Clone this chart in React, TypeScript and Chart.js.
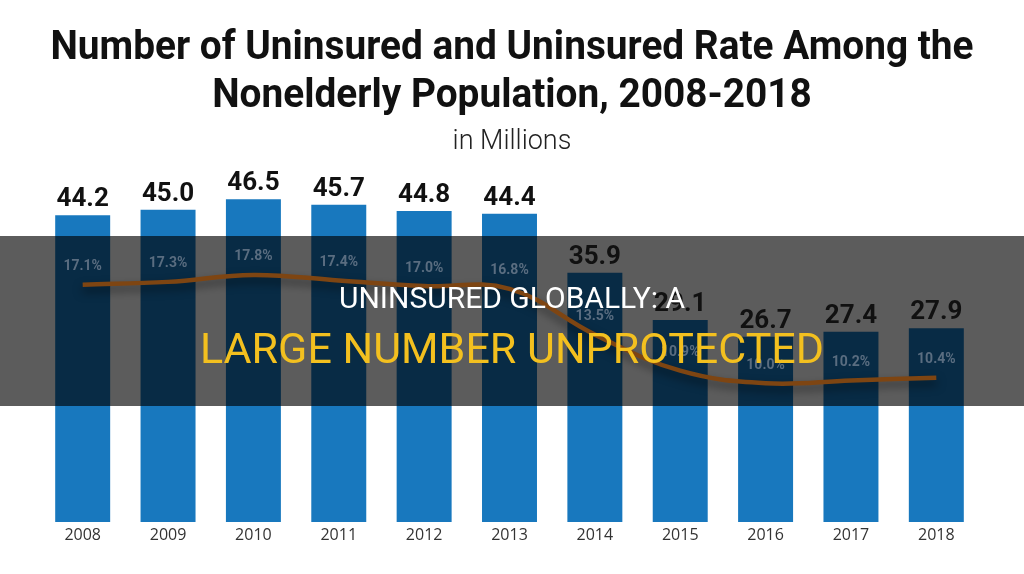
import React, { useEffect, useRef } from "react";
import { Chart, registerables } from "chart.js";

Chart.register(...registerables);

const years = ["2008", "2009", "2010", "2011", "2012", "2013", "2014", "2015", "2016", "2017", "2018"];
const uninsuredMillions = [44.2, 45.0, 46.5, 45.7, 44.8, 44.4, 35.9, 29.1, 26.7, 27.4, 27.9];
const uninsuredRate = [17.1, 17.3, 17.8, 17.4, 17.0, 16.8, 13.5, 10.9, 10.0, 10.2, 10.4];

const titleLines = ["Number of Uninsured and Uninsured Rate Among the", "Nonelderly Population, 2008-2018"];
const subtitleText = "in Millions";
const bannerTop = "UNINSURED GLOBALLY: A";
const bannerBottom = "LARGE NUMBER UNPROTECTED";

const BAR_COLOR = "#1878be";
const LINE_COLOR = "#7e4512";
const RATE_LABEL_COLOR = "#5a6d80";
const BAND_TOP = 236;
const BAND_HEIGHT = 170;
const BAND_COLOR = "rgba(0,0,0,0.64)";

const labelPlugin = {
  id: "valueLabels",
  beforeDatasetDraw(chart: any, args: any) {
    if (args.index === 1) {
      const ctx = chart.ctx;
      ctx.save();
      ctx.shadowColor = "rgba(0,0,0,0.5)";
      ctx.shadowBlur = 10;
      ctx.shadowOffsetY = 5;
    }
  },
  afterDatasetDraw(chart: any, args: any) {
    const ctx = chart.ctx;
    if (args.index === 0) {
      ctx.save();
      ctx.fillStyle = BAND_COLOR;
      ctx.fillRect(0, BAND_TOP, chart.width, BAND_HEIGHT);
      ctx.restore();
    }
    if (args.index === 1) {
      ctx.restore();
    }
  },
  afterDatasetsDraw(chart: any) {
    const ctx = chart.ctx;
    const barMeta = chart.getDatasetMeta(0);
    const lineMeta = chart.getDatasetMeta(1);
    ctx.save();
    ctx.textAlign = "center";
    ctx.textBaseline = "alphabetic";
    ctx.fillStyle = "#111111";
    ctx.font = "bold 26px Roboto";
    barMeta.data.forEach((bar: any, i: number) => {
      ctx.fillText(uninsuredMillions[i].toFixed(1), bar.x, bar.y - 9);
    });
    ctx.textBaseline = "middle";
    ctx.fillStyle = RATE_LABEL_COLOR;
    ctx.font = "bold 14px Roboto";
    lineMeta.data.forEach((pt: any, i: number) => {
      ctx.fillText(uninsuredRate[i].toFixed(1) + "%", pt.x, pt.y - 18);
    });
    ctx.restore();
  },
};

export default function App() {
  const canvasRef = useRef<HTMLCanvasElement | null>(null);

  useEffect(() => {
    if (!canvasRef.current) return;
    const chart = new Chart(canvasRef.current, {
      type: "bar",
      data: {
        labels: years,
        datasets: [
          {
            type: "bar",
            label: "Uninsured (millions)",
            data: uninsuredMillions,
            backgroundColor: BAR_COLOR,
            barPercentage: 0.644,
            categoryPercentage: 1,
            yAxisID: "y",
            order: 1,
          },
          {
            type: "line",
            label: "Uninsured rate",
            data: uninsuredRate,
            borderColor: LINE_COLOR,
            borderWidth: 4.5,
            pointRadius: 0,
            tension: 0.4,
            fill: false,
            yAxisID: "y1",
            order: 0,
          },
        ] as any,
      },
      options: {
        responsive: false,
        maintainAspectRatio: false,
        animation: false,
        layout: { autoPadding: false, padding: { left: 40, right: 45, top: 175, bottom: 18 } },
        plugins: {
          legend: { display: false },
          tooltip: { enabled: false },
          title: { display: false },
        },
        scales: {
          x: {
            grid: { display: false, drawTicks: false },
            border: { display: false },
            ticks: {
              color: "#333333",
              font: { family: "'Open Sans'", size: 16 },
              padding: 4,
            },
            afterFit: (scale: any) => {
              scale.height = 34;
            },
          },
          y: { display: false, min: 0, max: 50 },
          y1: { display: false, min: 0, max: 25, position: "right" },
        },
      },
      plugins: [labelPlugin],
    });
    return () => chart.destroy();
  }, []);

  return (
    <div style={{ position: "absolute", left: 0, top: 0, width: 1024, height: 574, background: "#ffffff", overflow: "hidden" }}>
      <canvas ref={canvasRef} width={1024} height={574} style={{ position: "absolute", left: 0, top: 0, width: 1024, height: 574 }} />
      <div
        style={{
          position: "absolute",
          left: 0,
          top: 22,
          width: 1024,
          textAlign: "center",
          fontFamily: "Roboto",
          fontWeight: 700,
          fontSize: 40,
          lineHeight: "48px",
          color: "#111111",
          transform: "scaleX(0.97)",
          transformOrigin: "512px 0",
          whiteSpace: "nowrap",
        }}
      >
        {titleLines.map((t) => (
          <div key={t}>{t}</div>
        ))}
      </div>
      <div
        style={{
          position: "absolute",
          left: 0,
          top: 127,
          width: 1024,
          textAlign: "center",
          fontFamily: "Roboto",
          fontWeight: 300,
          fontSize: 27,
          lineHeight: "27px",
          color: "#222222",
          whiteSpace: "nowrap",
        }}
      >
        {subtitleText}
      </div>
      <div
        style={{
          position: "absolute",
          left: 0,
          top: BAND_TOP,
          width: 1024,
          height: BAND_HEIGHT,
        }}
      >
        <div
          style={{
            position: "absolute",
            left: 0,
            top: 62 - 18,
            width: 1024,
            textAlign: "center",
            fontFamily: "Roboto",
            fontSize: 30,
            lineHeight: "36px",
            color: "#ffffff",
            whiteSpace: "nowrap",
          }}
        >
          {bannerTop}
        </div>
        <div
          style={{
            position: "absolute",
            left: 0,
            top: 112 - 25,
            width: 1024,
            textAlign: "center",
            fontFamily: "Roboto",
            fontSize: 43,
            lineHeight: "50px",
            color: "#f3c01f",
            whiteSpace: "nowrap",
          }}
        >
          {bannerBottom}
        </div>
      </div>
    </div>
  );
}
